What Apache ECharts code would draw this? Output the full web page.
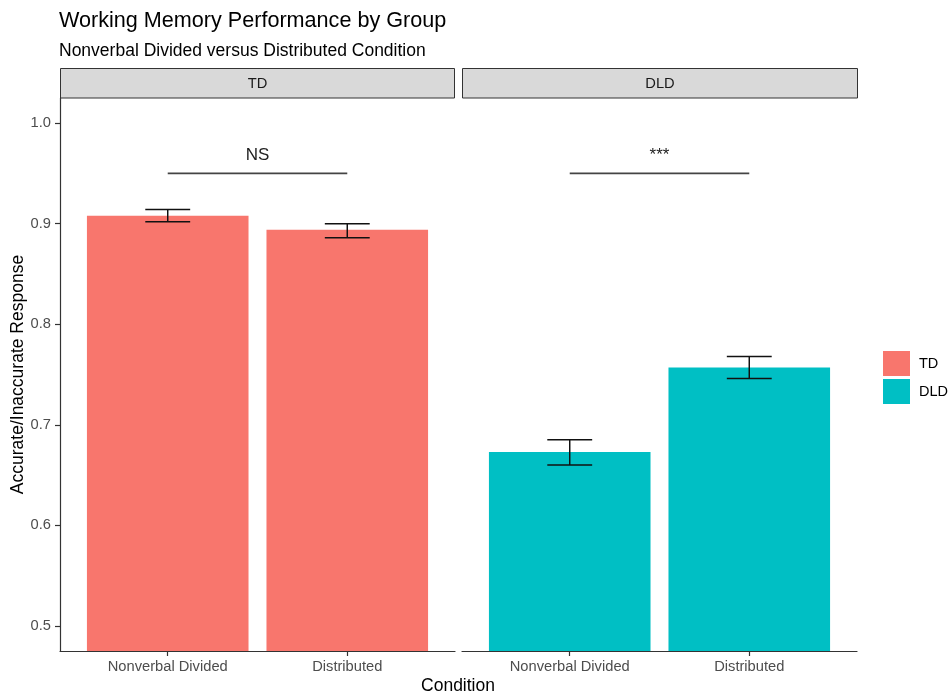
<!DOCTYPE html>
<html>
<head>
<meta charset="utf-8">
<script src="https://cdn.jsdelivr.net/npm/echarts@6/dist/echarts.min.js"></script>
<style>
html,body{margin:0;padding:0;background:#fff;}
#chart{width:951px;height:693px;}
</style>
</head>
<body>
<div id="chart"></div>
<script>
// ---- data ----
const conditions = ['Nonverbal Divided', 'Distributed'];
const groups = ['TD', 'DLD'];
const tdMeans = [0.908, 0.894];
const tdLower = [0.902, 0.886];
const tdUpper = [0.914, 0.900];
const dldMeans = [0.673, 0.757];
const dldLower = [0.660, 0.746];
const dldUpper = [0.685, 0.768];
const yTicks = [0.5, 0.6, 0.7, 0.8, 0.9, 1.0];
const sigY = 0.95;
const sigLabels = ['NS', '***'];

const FONT = '"Liberation Sans", Arial, sans-serif';
const colors = {TD: '#F8766D', DLD: '#00BFC4'};
const xPos = conditions.map((c, i) => i + 1);

const chart = echarts.init(document.getElementById('chart'), null, {renderer: 'canvas'});

const gridW = 395;
const xMin = 0.4, xMax = 2.6;
const barW = gridW / (xMax - xMin) * 0.9;

function makeX(gi) {
  return {
    gridIndex: gi, type: 'value', min: xMin, max: xMax,
    axisLine: {show: true, onZero: false, lineStyle: {color: '#333', width: 1.2}},
    axisTick: {show: true, customValues: xPos, length: 5, lineStyle: {color: '#333', width: 1.2}},
    axisLabel: {show: true, customValues: xPos, margin: 8, color: '#4d4d4d', fontSize: 14.7, fontFamily: FONT,
      formatter: v => conditions[Math.round(v) - 1]},
    splitLine: {show: false}
  };
}

function errRender(params, api) {
  const x = api.value(0), lo = api.value(1), hi = api.value(2);
  const pLo = api.coord([x, lo]), pHi = api.coord([x, hi]);
  const half = api.size([0.25, 0])[0] / 2;
  const st = {stroke: '#111', lineWidth: 1.5};
  return {type: 'group', children: [
    {type: 'line', shape: {x1: pLo[0], y1: pLo[1], x2: pHi[0], y2: pHi[1]}, style: st},
    {type: 'line', shape: {x1: pLo[0] - half, y1: pLo[1], x2: pLo[0] + half, y2: pLo[1]}, style: st},
    {type: 'line', shape: {x1: pHi[0] - half, y1: pHi[1], x2: pHi[0] + half, y2: pHi[1]}, style: st}
  ]};
}

function sigRender(label) {
  return function (params, api) {
    const p1 = api.coord([api.value(0), api.value(2)]);
    const p2 = api.coord([api.value(1), api.value(2)]);
    return {type: 'group', children: [
      {type: 'line', shape: {x1: p1[0], y1: p1[1], x2: p2[0], y2: p2[1]}, style: {stroke: '#444', lineWidth: 1.6}},
      {type: 'text', x: (p1[0] + p2[0]) / 2, y: p1[1] - 18,
        style: {text: label, fill: '#222', fontSize: 17, fontFamily: FONT, align: 'center', verticalAlign: 'middle'}}
    ]};
  };
}

const option = {
  backgroundColor: '#fff',
  animation: false,
  title: {
    text: 'Working Memory Performance by Group',
    subtext: 'Nonverbal Divided versus Distributed Condition',
    left: 59, top: 11, padding: 0, itemGap: 10,
    textStyle: {fontSize: 21.6, fontWeight: 'normal', color: '#000', fontFamily: FONT, lineHeight: 21},
    subtextStyle: {fontSize: 17.5, color: '#000', fontFamily: FONT, lineHeight: 17}
  },
  legend: {
    data: groups, orient: 'vertical', left: 883, top: 351, padding: 0,
    itemWidth: 27, itemHeight: 25, itemGap: 3, icon: 'rect',
    textStyle: {fontSize: 14.5, color: '#000', fontFamily: FONT, padding: [0, 0, 0, 4]},
    selectedMode: false
  },
  grid: [
    {left: 60, top: 98, width: gridW, bottom: 42},
    {left: 462, top: 98, width: gridW, bottom: 42}
  ],
  xAxis: [makeX(0), makeX(1)],
  yAxis: [
    {gridIndex: 0, type: 'value', min: 0.475, max: 1.025,
      axisLine: {show: true, lineStyle: {color: '#333', width: 1.2}},
      axisTick: {show: true, customValues: yTicks, length: 5, lineStyle: {color: '#333', width: 1.2}},
      axisLabel: {customValues: yTicks, margin: 9, color: '#4d4d4d', fontSize: 14.7, fontFamily: FONT,
        formatter: v => v.toFixed(1)},
      splitLine: {show: false},
      name: 'Accurate/Inaccurate Response', nameLocation: 'middle', nameGap: 32,
      nameTextStyle: {fontSize: 17.5, color: '#000', fontFamily: FONT}
    },
    {gridIndex: 1, type: 'value', min: 0.475, max: 1.025, show: false, splitLine: {show: false}}
  ],
  graphic: [
    {type: 'rect', shape: {x: 60.5, y: 68.5, width: 394, height: 29.5},
      style: {fill: '#d9d9d9', stroke: '#333', lineWidth: 1}},
    {type: 'text', x: 257.5, y: 84, style: {text: groups[0], fill: '#1a1a1a', fontSize: 14.7, fontFamily: FONT, align: 'center', verticalAlign: 'middle'}},
    {type: 'rect', shape: {x: 462.5, y: 68.5, width: 395, height: 29.5},
      style: {fill: '#d9d9d9', stroke: '#333', lineWidth: 1}},
    {type: 'text', x: 660, y: 84, style: {text: groups[1], fill: '#1a1a1a', fontSize: 14.7, fontFamily: FONT, align: 'center', verticalAlign: 'middle'}},
    {type: 'text', x: 458, y: 686, style: {text: 'Condition', fill: '#000', fontSize: 17.5, fontFamily: FONT, align: 'center', verticalAlign: 'middle'}}
  ],
  series: [
    {name: 'TD', type: 'bar', xAxisIndex: 0, yAxisIndex: 0, barWidth: barW,
      itemStyle: {color: colors.TD}, data: xPos.map((x, i) => [x, tdMeans[i]])},
    {name: 'DLD', type: 'bar', xAxisIndex: 1, yAxisIndex: 1, barWidth: barW,
      itemStyle: {color: colors.DLD}, data: xPos.map((x, i) => [x, dldMeans[i]])},
    {name: 'errTD', type: 'custom', xAxisIndex: 0, yAxisIndex: 0, renderItem: errRender,
      encode: {x: 0, y: [1, 2]}, z: 5, data: xPos.map((x, i) => [x, tdLower[i], tdUpper[i]])},
    {name: 'errDLD', type: 'custom', xAxisIndex: 1, yAxisIndex: 1, renderItem: errRender,
      encode: {x: 0, y: [1, 2]}, z: 5, data: xPos.map((x, i) => [x, dldLower[i], dldUpper[i]])},
    {name: 'sigTD', type: 'custom', xAxisIndex: 0, yAxisIndex: 0, renderItem: sigRender(sigLabels[0]),
      encode: {x: [0, 1], y: 2}, z: 5, data: [[xPos[0], xPos[1], sigY]]},
    {name: 'sigDLD', type: 'custom', xAxisIndex: 1, yAxisIndex: 1, renderItem: sigRender(sigLabels[1]),
      encode: {x: [0, 1], y: 2}, z: 5, data: [[xPos[0], xPos[1], sigY]]}
  ]
};
chart.setOption(option);
</script>
</body>
</html>
